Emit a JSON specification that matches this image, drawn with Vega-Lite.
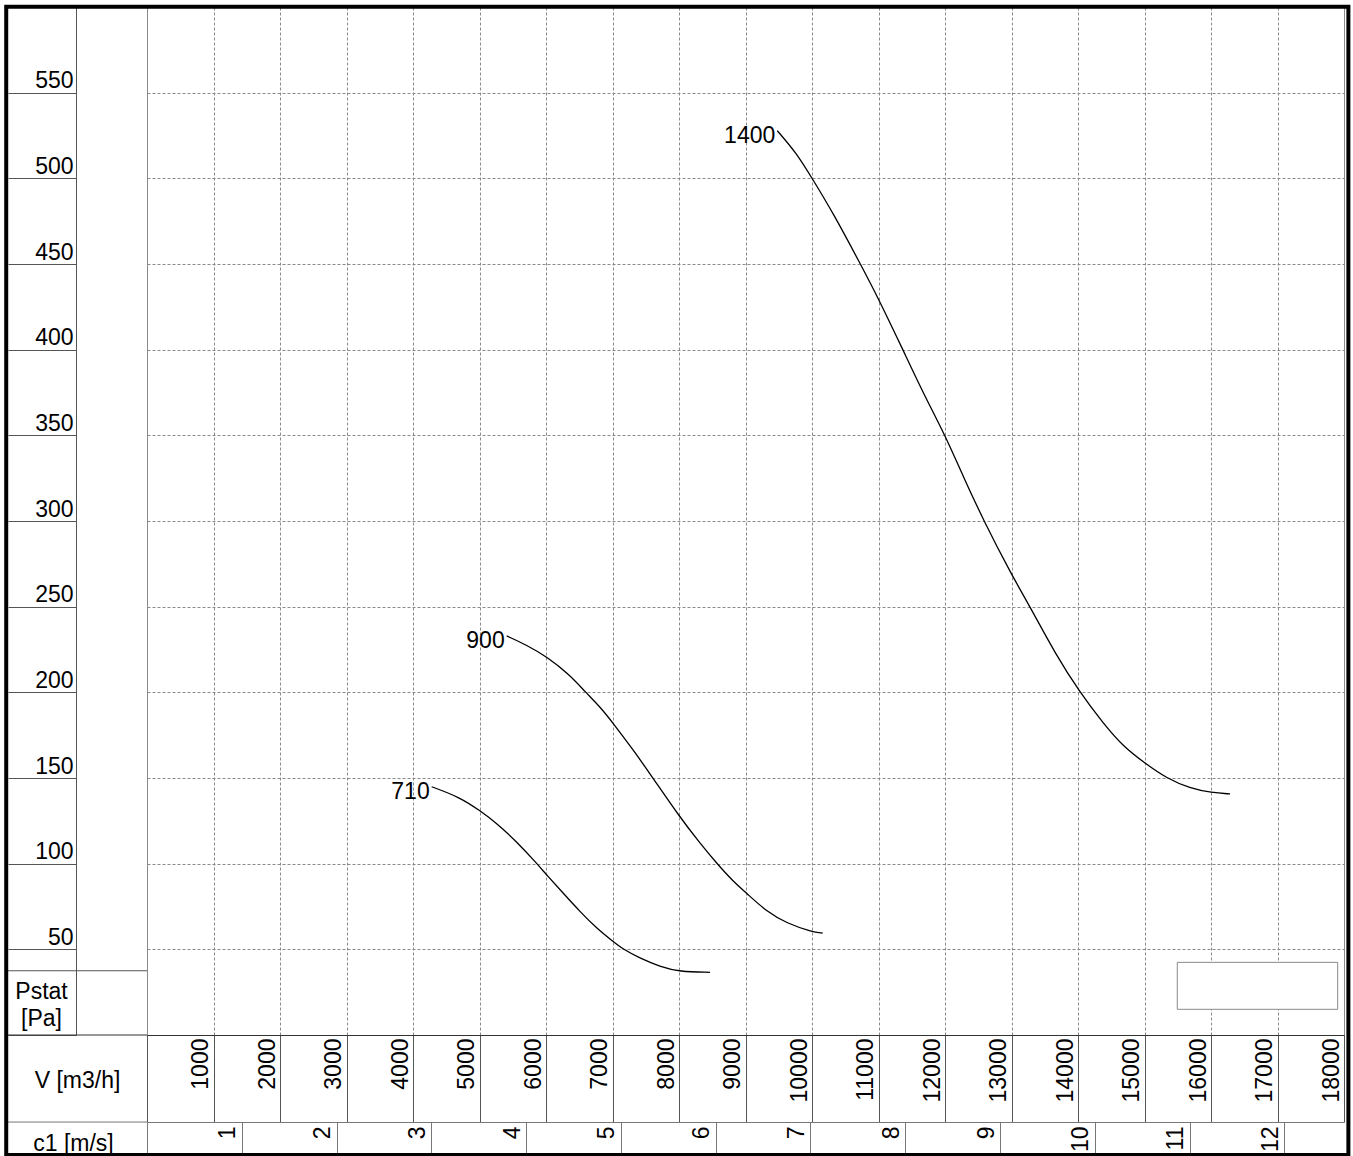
{
  "$schema": "https://vega.github.io/schema/vega-lite/v6.json",
  "width": 1197,
  "height": 1028,
  "autosize": {"type": "none"},
  "padding": {"left": 147, "top": 7, "right": 9, "bottom": 121},
  "background": "white",
  "config": {
    "view": {"stroke": "#8a8a8a", "strokeWidth": 1},
    "font": "Liberation Sans",
    "text": {"font": "Liberation Sans"},
    "axis": {
      "labelFont": "Liberation Sans",
      "titleFont": "Liberation Sans",
      "labelFontSize": 23,
      "titleFontSize": 23,
      "labelColor": "#000000",
      "titleColor": "#000000",
      "titleFontWeight": "normal",
      "labelOverlap": false,
      "labelFlush": false,
      "labelBound": false,
      "gridColor": "#8a8a8a",
      "gridDash": [3, 2],
      "gridWidth": 1
    }
  },
  "datasets": {
    "curves": [
      {"curve": "710", "V": 4281, "P": 144.9},
      {"curve": "710", "V": 4707, "P": 138.7},
      {"curve": "710", "V": 5008, "P": 130.9},
      {"curve": "710", "V": 5259, "P": 123.6},
      {"curve": "710", "V": 5559, "P": 112.8},
      {"curve": "710", "V": 5860, "P": 100.2},
      {"curve": "710", "V": 6011, "P": 93.4},
      {"curve": "710", "V": 6260, "P": 82.7},
      {"curve": "710", "V": 6511, "P": 72.0},
      {"curve": "710", "V": 6762, "P": 62.3},
      {"curve": "710", "V": 7012, "P": 54.5},
      {"curve": "710", "V": 7162, "P": 50.0},
      {"curve": "710", "V": 7414, "P": 44.8},
      {"curve": "710", "V": 7714, "P": 39.9},
      {"curve": "710", "V": 8005, "P": 36.9},
      {"curve": "710", "V": 8466, "P": 36.6},
      {"curve": "900", "V": 5409, "P": 232.9},
      {"curve": "900", "V": 5710, "P": 227.6},
      {"curve": "900", "V": 6011, "P": 220.8},
      {"curve": "900", "V": 6361, "P": 210.1},
      {"curve": "900", "V": 6586, "P": 200.4},
      {"curve": "900", "V": 6812, "P": 191.6},
      {"curve": "900", "V": 7012, "P": 181.9},
      {"curve": "900", "V": 7313, "P": 166.3},
      {"curve": "900", "V": 7605, "P": 150.2},
      {"curve": "900", "V": 7989, "P": 128.4},
      {"curve": "900", "V": 8316, "P": 111.9},
      {"curve": "900", "V": 8567, "P": 100.2},
      {"curve": "900", "V": 8817, "P": 89.5},
      {"curve": "900", "V": 9018, "P": 82.7},
      {"curve": "900", "V": 9319, "P": 72.0},
      {"curve": "900", "V": 9620, "P": 65.2},
      {"curve": "900", "V": 9995, "P": 60.3},
      {"curve": "900", "V": 10161, "P": 59.4},
      {"curve": "1400", "V": 9478, "P": 527.8},
      {"curve": "1400", "V": 9770, "P": 514.6},
      {"curve": "1400", "V": 9995, "P": 500.4},
      {"curve": "1400", "V": 10320, "P": 479.6},
      {"curve": "1400", "V": 10722, "P": 450.4},
      {"curve": "1400", "V": 10997, "P": 430.0},
      {"curve": "1400", "V": 11364, "P": 400.2},
      {"curve": "1400", "V": 11674, "P": 374.5},
      {"curve": "1400", "V": 12000, "P": 350.2},
      {"curve": "1400", "V": 12275, "P": 325.9},
      {"curve": "1400", "V": 12576, "P": 300.6},
      {"curve": "1400", "V": 13003, "P": 268.5},
      {"curve": "1400", "V": 13278, "P": 250.0},
      {"curve": "1400", "V": 13654, "P": 222.8},
      {"curve": "1400", "V": 14030, "P": 199.8},
      {"curve": "1400", "V": 14380, "P": 181.9},
      {"curve": "1400", "V": 14681, "P": 168.3},
      {"curve": "1400", "V": 15008, "P": 158.6},
      {"curve": "1400", "V": 15334, "P": 149.8},
      {"curve": "1400", "V": 15684, "P": 144.0},
      {"curve": "1400", "V": 16011, "P": 141.4},
      {"curve": "1400", "V": 16286, "P": 140.7}
    ]
  },
  "resolve": {"axis": {"x": "independent", "y": "independent"}},
  "layer": [
    {
      "data": {"name": "curves"},
      "mark": {"type": "line", "color": "#000000", "strokeWidth": 1.3, "interpolate": "basis"},
      "encoding": {
        "x": {
          "field": "V",
          "type": "quantitative",
          "scale": {"domain": [0, 18000], "nice": false, "zero": false},
          "axis": {
            "orient": "bottom",
            "values": [0, 1000, 2000, 3000, 4000, 5000, 6000, 7000, 8000, 9000, 10000, 11000, 12000, 13000, 14000, 15000, 16000, 17000, 18000],
            "format": "d",
            "grid": true,
            "tickSize": 87,
            "tickColor": "#555555",
            "domainColor": "#333333",
            "labelAngle": 270,
            "labelAlign": "right",
            "labelBaseline": "middle",
            "labelPadding": -84,
            "labelOffset": -13,
            "labelExpr": "datum.value == 0 ? '' : datum.label",
            "title": "V [m3/h]",
            "titleAngle": 0,
            "titleAlign": "center",
            "titleBaseline": "alphabetic",
            "titleX": -70,
            "titleY": 52
          }
        },
        "y": {
          "field": "P",
          "type": "quantitative",
          "scale": {"domain": [0, 600], "nice": false, "zero": false},
          "axis": {
            "orient": "left",
            "offset": 71,
            "values": [0, 50, 100, 150, 200, 250, 300, 350, 400, 450, 500, 550, 600],
            "format": "d",
            "grid": true,
            "tickSize": 68,
            "tickColor": "#555555",
            "domainColor": "#555555",
            "labelAlign": "right",
            "labelBaseline": "alphabetic",
            "labelPadding": -65,
            "labelOffset": -5,
            "labelExpr": "datum.value == 0 || datum.value == 600 ? '' : datum.label",
            "title": ["Pstat", "[Pa]"],
            "titleAngle": 0,
            "titleAlign": "center",
            "titleBaseline": "alphabetic",
            "titleLineHeight": 27,
            "titleX": -35,
            "titleY": 991
          }
        },
        "detail": {"field": "curve"}
      }
    },
    {
      "data": {"values": [{}]},
      "mark": {"type": "rect", "fill": "#ffffff", "stroke": "#8a8a8a", "strokeWidth": 1},
      "encoding": {
        "x": {"datum": 15493, "type": "quantitative", "axis": null},
        "x2": {"datum": 17905},
        "y": {"datum": 42.4, "type": "quantitative", "axis": null},
        "y2": {"datum": 15.0}
      }
    },
    {
      "data": {"name": "curves"},
      "transform": [
        {"window": [{"op": "row_number", "as": "rn"}], "groupby": ["curve"], "sort": [{"field": "V", "order": "ascending"}]},
        {"filter": "datum.rn == 1"}
      ],
      "mark": {"type": "text", "align": "right", "baseline": "alphabetic", "dx": -2, "dy": 12, "fontSize": 23, "color": "#000000", "font": "Liberation Sans"},
      "encoding": {
        "x": {
          "field": "V",
          "type": "quantitative",
          "axis": {
            "orient": "bottom",
            "offset": 87,
            "values": [0, 1425.3, 2850.6, 4275.9, 5701.2, 7126.5, 8551.8, 9977.1, 11402.4, 12827.7, 14253, 15678.3, 17103.6],
            "grid": false,
            "tickSize": 31,
            "tickColor": "#777777",
            "domainColor": "#777777",
            "labelAngle": 270,
            "labelAlign": "right",
            "labelBaseline": "middle",
            "labelPadding": -27,
            "labelOffset": -14,
            "labelExpr": "datum.value == 0 ? '' : format(datum.value / 1425.3, '.0f')",
            "title": "c1 [m/s]",
            "titleAngle": 0,
            "titleAlign": "center",
            "titleBaseline": "alphabetic",
            "titleX": -74,
            "titleY": 28
          }
        },
        "y": {"field": "P", "type": "quantitative", "axis": null},
        "text": {"field": "curve"}
      }
    },
    {
      "data": {"values": [{}]},
      "mark": {"type": "rule", "color": "#333333", "strokeWidth": 1},
      "encoding": {
        "x": {"datum": -2117, "type": "quantitative", "axis": null},
        "x2": {"datum": 0},
        "y": {"datum": 0, "type": "quantitative", "axis": null}
      }
    },
    {
      "data": {"values": [{}]},
      "mark": {"type": "rule", "color": "#555555", "strokeWidth": 1},
      "encoding": {
        "x": {"datum": -2117, "type": "quantitative", "axis": null},
        "x2": {"datum": 0},
        "y": {"datum": 37.5, "type": "quantitative", "axis": null}
      }
    },
    {
      "data": {"values": [{}]},
      "mark": {"type": "rule", "color": "#777777", "strokeWidth": 1},
      "encoding": {
        "x": {"datum": -2117, "type": "quantitative", "axis": null},
        "x2": {"datum": 0},
        "y": {"datum": -50.8, "type": "quantitative", "axis": null}
      }
    },
    {
      "data": {"values": [{}]},
      "mark": {"type": "rect", "fill": null, "fillOpacity": 0, "stroke": "#000000", "strokeWidth": 4},
      "encoding": {
        "x": {"datum": -2117, "type": "quantitative", "axis": null},
        "x2": {"datum": 18066},
        "y": {"datum": 600.2, "type": "quantitative", "axis": null},
        "y2": {"datum": -70.0}
      }
    }
  ]
}
